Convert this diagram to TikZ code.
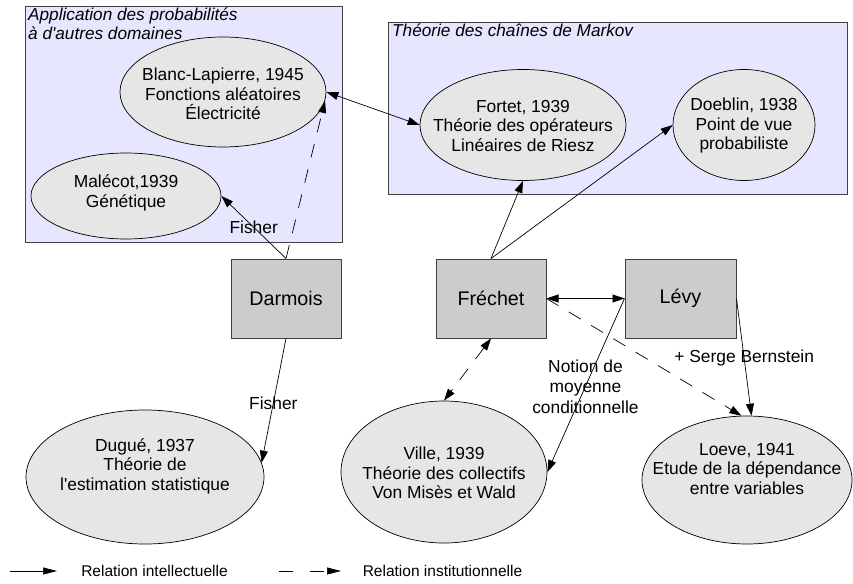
\documentclass[tikz,border=0pt]{standalone}
\usepackage{fontspec}
\setmainfont{Liberation Sans}
\usetikzlibrary{shapes.geometric,arrows.meta}
\definecolor{groupfill}{HTML}{E6E6FF}
\definecolor{ellfill}{HTML}{E6E6E6}
\definecolor{boxfill}{HTML}{CCCCCC}
\definecolor{edgegray}{HTML}{404040}
\begin{document}
\begin{tikzpicture}[x=1pt,y=-1pt,
  every node/.style={font=\fontsize{17.4}{19.5}\selectfont},
  grp/.style={rectangle, draw=edgegray, fill=groupfill, line width=1pt, anchor=north west, inner sep=0pt},
  grptitle/.style={anchor=north west, align=left, inner sep=0pt, font=\itshape\fontsize{17.2}{18.5}\selectfont},
  ell/.style={ellipse, draw=black, fill=ellfill, inner sep=0pt, line width=0.7pt},
  txt/.style={align=center, inner sep=0pt},
  pers/.style={rectangle, draw=edgegray, fill=boxfill, minimum width=110pt, minimum height=79pt, inner sep=0pt, line width=1pt, font=\fontsize{19.7}{22}\selectfont},
  lbl/.style={align=center, inner sep=0pt, font=\fontsize{17.4}{20.5}\selectfont},
  tip/.tip={Triangle[length=12pt,width=8pt]},
  intel/.style={-tip, line width=0.7pt},
  twoway/.style={tip-tip, line width=0.7pt},
  inst/.style={-tip, line width=0.7pt, dash pattern=on 14pt off 12pt},
  insttwo/.style={tip-tip, line width=0.7pt, dash pattern=on 14pt off 12pt},
  legtxt/.style={inner sep=0pt, font=\fontsize{15.5}{17}\selectfont}
]
\useasboundingbox (0,0) rectangle (853,583);
\fill[white] (0,0) rectangle (853,583);

% group boxes
\node[grp, minimum width=317pt, minimum height=236pt] (g1) at (25,6) {};
\node[grptitle] (g1t) at (28,8) {Application des probabilités\\à d\textquotesingle autres domaines};
\node[grp, minimum width=459pt, minimum height=172pt] (g2) at (388,22) {};
\node[grptitle] (g2t) at (392,24) {Théorie des chaînes de Markov};

% ellipses
\node[ell, minimum width=206pt, minimum height=110pt] (bl) at (223,92) {};
\node[txt] (blt) at (223,94) {Blanc-Lapierre, 1945\\Fonctions aléatoires\\Électricité};
\node[ell, minimum width=190pt, minimum height=86pt] (mal) at (126,196) {};
\node[txt] (malt) at (126,193) {Malécot,1939\\Génétique};
\node[ell, minimum width=206pt, minimum height=111pt] (fortet) at (523,125) {};
\node[txt] (fortett) at (523,126) {Fortet, 1939\\Théorie des opérateurs\\Linéaires de Riesz};
\node[ell, minimum width=142pt, minimum height=111pt] (doeblin) at (744,125) {};
\node[txt] (doeblint) at (744,126) {Doeblin, 1938\\Point de vue\\probabiliste};
\node[ell, minimum width=238pt, minimum height=134pt] (dugue) at (145,477) {};
\node[txt] (duguet) at (145,466) {Dugué, 1937\\Théorie de\\l\textquotesingle estimation statistique};
\node[ell, minimum width=206pt, minimum height=142pt] (ville) at (444,472) {};
\node[txt] (villet) at (444,473) {Ville, 1939\\Théorie des collectifs\\Von Misès et Wald};
\node[ell, minimum width=210pt, minimum height=128pt] (loeve) at (747,480) {};
\node[txt] (loevet) at (747,469) {Loeve, 1941\\Etude de la dépendance\\entre variables};

% persons
\node[pers] (darmois) at (286,298.5) {Darmois};
\node[pers] (frechet) at (491,298.5) {Fréchet};
\node[pers, minimum width=111pt] (levy) at (680.5,298.5) {Lévy};

% connectors
\draw[twoway] (bl.east) -- (fortet.west);
\draw[inst] (darmois.north) -- (bl.-5);
\draw[intel] (darmois.north) -- node[lbl, pos=0.5] {Fisher} (mal.east);
\draw[intel] (darmois.south) -- node[lbl, pos=0.52] {Fisher} (dugue.7);
\draw[intel] (frechet.north) -- (fortet.south);
\draw[intel] (frechet.north) -- (doeblin.west);
\draw[twoway] (frechet.east) -- (levy.west);
\draw[insttwo] (frechet.south) -- (ville.north);
\draw[intel] (levy.west) -- node[lbl, pos=0.506] {Notion de\\moyenne\\conditionnelle} (ville.east);
\draw[inst] (frechet.east) -- (loeve.95);
\draw[intel] (levy.east) -- node[lbl, pos=0.51] {+ Serge Bernstein} (loeve.86);

% legend
\coordinate (l1a) at (10,571);
\coordinate (l1b) at (57,571);
\draw[-{Triangle[length=14pt,width=7pt]}, line width=0.7pt] (l1a) -- (l1b);
\node[legtxt] (l1t) at (154.5,571) {Relation intellectuelle};
\coordinate (l2a) at (279,571);
\coordinate (l2b) at (341,571);
\draw[-{Triangle[length=14pt,width=7pt]}, line width=0.7pt, dash pattern=on 14pt off 17pt] (l2a) -- (l2b);
\node[legtxt] (l2t) at (442.5,571) {Relation institutionnelle};
\end{tikzpicture}
\end{document}
